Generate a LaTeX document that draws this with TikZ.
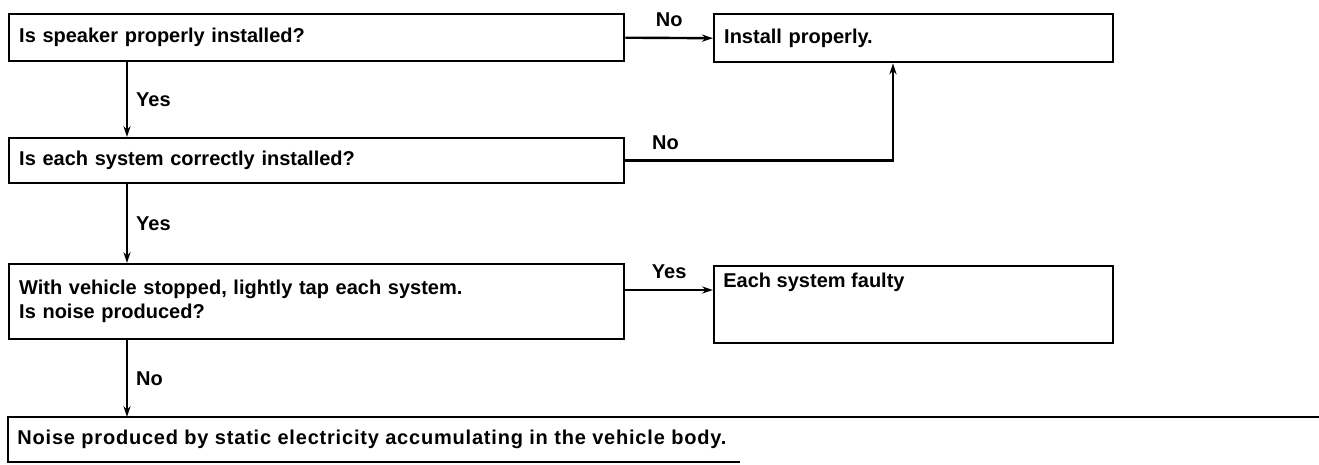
\documentclass[tikz,border=0pt]{standalone}
\usepackage{fontspec}
\setmainfont{Liberation Sans}
\usetikzlibrary{arrows.meta}
\begin{document}
\begin{tikzpicture}[x=0.5pt,y=-0.5pt,
  box/.style={draw, line width=1.2pt, rectangle, anchor=north west, inner xsep=5pt, inner ysep=0pt, align=left, font=\bfseries},
  arr/.style={line width=1.2pt, -{Stealth[length=5.5pt,width=3.6pt]}},
  lbl/.style={font=\bfseries, inner sep=0pt},
  edge/.style={line width=1.2pt}]
\useasboundingbox (0,0) rectangle (1319,465);
% question boxes
\node[box, minimum width=307.5pt, text width=297.5pt, minimum height=23.5pt] (q1) at (8,13) {Is speaker properly installed?};
\node[box, minimum width=307.5pt, text width=297.5pt, minimum height=22.5pt] (q2) at (8,137) {Is each system correctly installed?};
\node[box, minimum width=307.5pt, text width=297.5pt, minimum height=37.5pt] (q3) at (8,263) {With vehicle stopped, lightly tap each system.\\Is noise produced?};
% result boxes
\node[box, minimum width=199.5pt, text width=189.5pt, minimum height=24pt] (inst) at (713,13) {Install properly.};
\node[box, minimum width=199.5pt, minimum height=38.5pt] (fault) at (713,265) {};
\node[lbl, anchor=west] (ftxt) at (723,282) {Each system faulty};
% bottom box (open outline)
\node[lbl, anchor=west] (b4) at (17,439) {\addfontfeature{LetterSpace=4}Noise produced by static electricity accumulating in the vehicle body.};
\coordinate (b4tr) at (1319,417);
\coordinate (b4tl) at (8,417);
\coordinate (b4bl) at (8,462);
\coordinate (b4br) at (740,462);
\draw[edge] (b4tr) -- (b4tl) -- (b4bl) -- (b4br);
% connector helpers
\coordinate (vx) at (127,0);
\coordinate (kx) at (893,0);
\coordinate (y3) at (0,290);
\coordinate (b4in) at (127,417);
% vertical flow
\draw[arr] (q1.south -| vx) -- (q2.north -| vx) node[midway, lbl, anchor=west, xshift=4pt] (y1) {Yes};
\draw[arr] (q2.south -| vx) -- (q3.north -| vx) node[midway, lbl, anchor=west, xshift=4pt] (y2) {Yes};
\draw[arr] (q3.south -| vx) -- (b4in) node[midway, lbl, anchor=west, xshift=4pt] (n3) {No};
% side branches
\draw[arr] (q1.east) -- (inst.west) node[midway, lbl, anchor=south, yshift=5pt] (n1) {No};
\draw[arr] (q2.east) -- (q2.east -| kx) node[pos=0.15, lbl, anchor=south, yshift=5pt] (n2) {No} -- (inst.south -| kx);
\draw[arr] (q3.east |- y3) -- (fault.west |- y3) node[midway, lbl, anchor=south, yshift=5pt] (y4) {Yes};
\end{tikzpicture}
\end{document}
